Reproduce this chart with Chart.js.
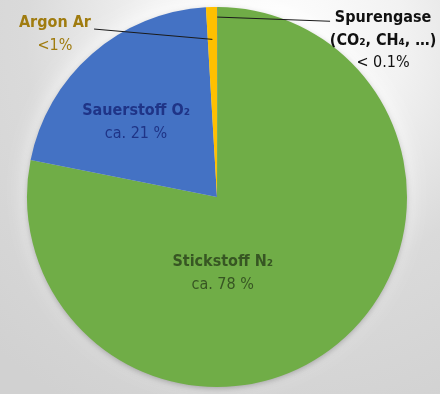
<!DOCTYPE html>
<html>
<head>
<meta charset="utf-8">
<script src="https://cdn.jsdelivr.net/npm/chart.js@4"></script>
<style>
html,body{margin:0;padding:0;background:#d6d6d6;}
#wrap{width:440px;height:394px;position:relative;}
</style>
</head>
<body>
<div id="wrap"><canvas id="c" width="440" height="394"></canvas></div>
<script>
const categories = ["Spurengase", "Stickstoff N₂", "Sauerstoff O₂", "Argon Ar"];
const values = [0.04, 78.08, 20.95, 0.93];
const colors = ["#3a3a3a", "#70ad47", "#4472c4", "#ffc000"];
const labelLines = [
  ["Spurengase", "(CO₂, CH₄, …)", "< 0.1%"],
  ["Stickstoff N₂", "ca. 78 %"],
  ["Sauerstoff O₂", "ca. 21 %"],
  ["Argon Ar", "<1%"]
];
const labelColors = ["#111111", "#375623", "#1f3487", "#a07c10"];
// label anchor offsets as fractions of radius (dx, dy) from the pie centre
const labelPos = [[0.874, -0.942], [0.03, 0.342], [-0.426, -0.453], [-0.853, -0.916]];
const boldLines = [[true, true, false], [true, false], [true, false], [true, false]];
// leader line: [radius fraction on slice, label-side end dx, dy]
const leaders = {0: [0.947, 0.595, -0.925], 3: [0.83, -0.647, -0.884]};

const bgPlugin = {
  id: 'bg',
  beforeDraw(chart) {
    const ctx = chart.ctx, W = chart.width, H = chart.height;
    const arc = chart.getDatasetMeta(0).data[0];
    const cx = arc.x, cy = arc.y, r = arc.outerRadius;
    ctx.save();
    const g = ctx.createRadialGradient(cx + 60, cy - 160, 0, cx + 60, cy - 160, 420);
    g.addColorStop(0, '#ffffff');
    g.addColorStop(0.3, '#f2f2f2');
    g.addColorStop(0.6, '#dadada');
    g.addColorStop(1, '#d1d1d1');
    ctx.fillStyle = g;
    ctx.fillRect(0, 0, W, H);
    // white glow around the pie
    ctx.shadowColor = 'rgba(255,255,255,0.85)';
    ctx.shadowBlur = 22;
    ctx.shadowOffsetY = -6;
    ctx.fillStyle = '#d8d8d8';
    ctx.beginPath(); ctx.arc(cx, cy, r - 2, 0, Math.PI * 2); ctx.fill();
    // soft dark shadow
    ctx.shadowColor = 'rgba(0,0,0,0.3)';
    ctx.shadowBlur = 6;
    ctx.shadowOffsetY = 2;
    ctx.beginPath(); ctx.arc(cx, cy, r - 1, 0, Math.PI * 2); ctx.fill();
    ctx.restore();
  }
};

const labelPlugin = {
  id: 'labels',
  afterDatasetsDraw(chart) {
    const ctx = chart.ctx;
    const meta = chart.getDatasetMeta(0);
    const a0 = meta.data[0];
    const cx = a0.x, cy = a0.y, r = a0.outerRadius;
    ctx.save();
    ctx.strokeStyle = '#1a1a1a';
    ctx.lineWidth = 1;
    Object.keys(leaders).forEach(k => {
      const el = meta.data[k];
      const [rf, ex, ey] = leaders[k];
      const mid = (el.startAngle + el.endAngle) / 2;
      ctx.beginPath();
      ctx.moveTo(cx + Math.cos(mid) * r * rf, cy + Math.sin(mid) * r * rf);
      ctx.lineTo(cx + ex * r, cy + ey * r);
      ctx.stroke();
    });
    ctx.textAlign = 'center';
    ctx.textBaseline = 'middle';
    labelLines.forEach((lines, i) => {
      const x = cx + labelPos[i][0] * r;
      let y = cy + labelPos[i][1] * r;
      ctx.fillStyle = labelColors[i];
      lines.forEach((t, j) => {
        ctx.font = (boldLines[i][j] ? 'bold ' : '') + '16px "DejaVu Sans Condensed", Roboto, sans-serif';
        ctx.fillText(t, x, y + j * 22.5);
      });
    });
    ctx.restore();
  }
};

new Chart(document.getElementById('c'), {
  type: 'pie',
  data: {
    labels: categories,
    datasets: [{ data: values, backgroundColor: colors, borderWidth: 0 }]
  },
  options: {
    responsive: false,
    animation: false,
    layout: { padding: { left: 27, right: 33, top: 7, bottom: 7 } },
    plugins: { legend: { display: false }, tooltip: { enabled: false } }
  },
  plugins: [bgPlugin, labelPlugin]
});
</script>
</body>
</html>
